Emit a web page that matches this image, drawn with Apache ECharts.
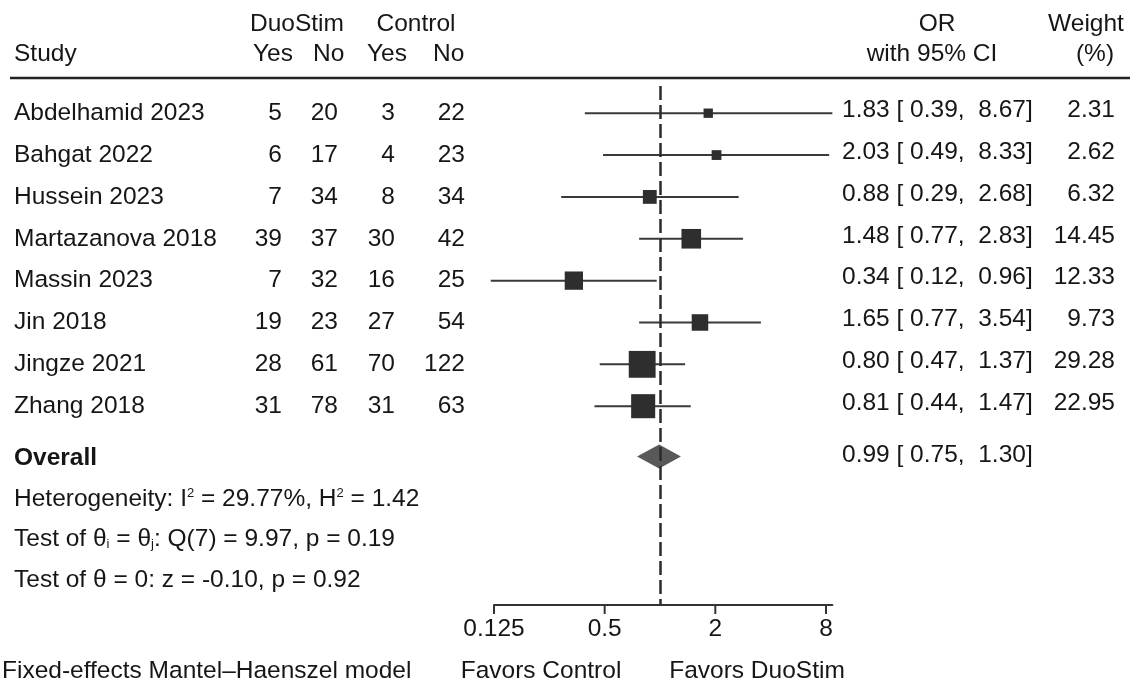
<!DOCTYPE html>
<html>
<head>
<meta charset="utf-8">
<style>
  html, body { margin: 0; padding: 0; background: #ffffff; }
  #chart { width: 1137px; height: 682px; }
</style>
<script src="https://cdn.jsdelivr.net/npm/echarts@6/dist/echarts.min.js"></script>
</head>
<body>
<div id="chart"></div>
<script>
// ---------------- data ----------------
const studies = ['Abdelhamid 2023', 'Bahgat 2022', 'Hussein 2023', 'Martazanova 2018',
                 'Massin 2023', 'Jin 2018', 'Jingze 2021', 'Zhang 2018'];
const duoYes  = [5, 6, 7, 39, 7, 19, 28, 31];
const duoNo   = [20, 17, 34, 37, 32, 23, 61, 78];
const ctlYes  = [3, 4, 8, 30, 16, 27, 70, 31];
const ctlNo   = [22, 23, 34, 42, 25, 54, 122, 63];
const orEst   = [1.83, 2.03, 0.88, 1.48, 0.34, 1.65, 0.80, 0.81];
const ciLow   = [0.39, 0.49, 0.29, 0.77, 0.12, 0.77, 0.47, 0.44];
const ciHigh  = [8.67, 8.33, 2.68, 2.83, 0.96, 3.54, 1.37, 1.47];
const weights = [2.31, 2.62, 6.32, 14.45, 12.33, 9.73, 29.28, 22.95];
const overallEst = [0.99, 0.75, 1.30];   // OR, lower, upper
const xTicks = [0.125, 0.5, 2, 8];
const statLines = [
  '{n|Heterogeneity: I}{sup|2}{n| = 29.77%, H}{sup|2}{n| = 1.42}',
  '{n|Test of θ}{sub|i}{n| = θ}{sub|j}{n|: Q(7) = 9.97, p = 0.19}',
  '{n|Test of θ = 0: z = -0.10, p = 0.92}'
];

// ---------------- layout ----------------
const FONT = '"Liberation Sans", Arial, Helvetica, sans-serif';
const FS = 24.5;
const TXT = '#161616';
const Y_MIN = -0.65, Y_MAX = 11.75;            // vertical row scale
const studyRows = studies.map((s, i) => i);
const overallRow = 8.25;
const statRows = [9.22, 10.17, 11.15];
const COL = { study: 14, dy: 282, dn: 338, cy: 395, cn: 465, or: 842, w: 1115 };
const RIGHT_SHIFT = -3;

function fmt(v) { return v.toFixed(2); }
function orText(e, l, h) { return fmt(e) + ' [ ' + fmt(l) + ',  ' + fmt(h) + ']'; }

function textEl(x, y, s, align, extra) {
  return {
    type: 'text', x: x, y: y,
    style: Object.assign({
      text: s, fill: TXT, fontSize: FS, fontFamily: FONT,
      textAlign: align, align: align,
      textVerticalAlign: 'middle', verticalAlign: 'middle'
    }, extra || {})
  };
}

const chart = echarts.init(document.getElementById('chart'), null, { renderer: 'canvas' });

const option = {
  backgroundColor: '#ffffff',
  animation: false,
  grid: { left: 494, top: 86, width: 338.4, height: 519, containLabel: false, outerBoundsMode: 'none' },
  xAxis: {
    type: 'log', logBase: 2,
    min: 0.125, max: Math.max.apply(null, ciHigh),
    axisLine: { show: true, onZero: false, lineStyle: { color: '#333', width: 2 } },
    axisTick: { show: false },
    axisLabel: { show: false },
    splitLine: { show: false }
  },
  yAxis: {
    type: 'value', inverse: true, min: Y_MIN, max: Y_MAX, show: false,
    splitLine: { show: false }
  },
  graphic: [
    { type: 'line', shape: { x1: 10, y1: 78, x2: 1130, y2: 78 }, style: { stroke: '#222', lineWidth: 2.5 } },
    textEl(297, 24, 'DuoStim', 'center'),
    textEl(416, 24, 'Control', 'center'),
    textEl(14, 54, 'Study', 'left'),
    textEl(253, 54, 'Yes', 'left'),
    textEl(313, 54, 'No', 'left'),
    textEl(367, 54, 'Yes', 'left'),
    textEl(433, 54, 'No', 'left'),
    textEl(937, 24, 'OR', 'center'),
    textEl(932, 54, 'with 95% CI', 'center'),
    textEl(1086, 24, 'Weight', 'center'),
    textEl(1095, 54, '(%)', 'center'),
    textEl(2, 671, 'Fixed-effects Mantel\u2013Haenszel model', 'left'),
    textEl(541, 671, 'Favors Control', 'center'),
    textEl(757, 671, 'Favors DuoStim', 'center')
  ],
  series: [
    // study table text
    {
      type: 'custom', name: 'table', silent: true, clip: false,
      data: studyRows.map(r => [1, r, r]),
      encode: { x: 0, y: 1 },
      renderItem: function (params, api) {
        const i = api.value(2);
        const y = api.coord([1, api.value(1)])[1];
        return {
          type: 'group',
          children: [
            textEl(COL.study, y, studies[i], 'left'),
            textEl(COL.dy, y, String(duoYes[i]), 'right'),
            textEl(COL.dn, y, String(duoNo[i]), 'right'),
            textEl(COL.cy, y, String(ctlYes[i]), 'right'),
            textEl(COL.cn, y, String(ctlNo[i]), 'right'),
            textEl(COL.or, y + RIGHT_SHIFT, orText(orEst[i], ciLow[i], ciHigh[i]), 'left'),
            textEl(COL.w, y + RIGHT_SHIFT, fmt(weights[i]), 'right')
          ]
        };
      }
    },
    // overall + statistics text
    {
      type: 'custom', name: 'summaryText', silent: true, clip: false,
      data: [[1, overallRow]],
      encode: { x: 0, y: 1 },
      renderItem: function (params, api) {
        const y = api.coord([1, api.value(1)])[1];
        const kids = [
          textEl(COL.study, y, 'Overall', 'left', { fontWeight: 'bold' }),
          textEl(COL.or, y + RIGHT_SHIFT, orText(overallEst[0], overallEst[1], overallEst[2]), 'left')
        ];
        statRows.forEach(function (r, k) {
          const yy = api.coord([1, r])[1];
          kids.push({
            type: 'text', x: COL.study, y: yy,
            style: {
              text: statLines[k], fill: TXT, fontSize: FS, fontFamily: FONT,
              textAlign: 'left', align: 'left', textVerticalAlign: 'middle', verticalAlign: 'middle',
              rich: {
                n: { fontSize: FS, fontFamily: FONT, fill: TXT, color: TXT },
                sup: { fontSize: 13, fontFamily: FONT, fill: TXT, color: TXT, verticalAlign: 'top' },
                sub: { fontSize: 13, fontFamily: FONT, fill: TXT, color: TXT, verticalAlign: 'bottom' }
              }
            }
          });
        });
        return { type: 'group', children: kids };
      }
    },
    // confidence intervals and weighted squares
    {
      type: 'custom', name: 'studies', silent: true, clip: false, z: 3,
      data: studyRows.map(i => [orEst[i], i, ciLow[i], ciHigh[i], weights[i]]),
      encode: { x: 0, y: 1 },
      renderItem: function (params, api) {
        const row = api.value(1);
        const p = api.coord([api.value(0), row]);
        const pl = api.coord([api.value(2), row]);
        const ph = api.coord([api.value(3), row]);
        const s = 2.5 + 4.5 * Math.sqrt(api.value(4));
        return {
          type: 'group',
          children: [
            { type: 'line', shape: { x1: pl[0], y1: p[1], x2: ph[0], y2: p[1] },
              style: { stroke: '#3a3a3a', lineWidth: 2 } },
            { type: 'rect', shape: { x: p[0] - s / 2, y: p[1] - s / 2, width: s, height: s },
              style: { fill: '#2e2e2e' } }
          ]
        };
      }
    },
    // overall diamond + null line
    {
      type: 'custom', name: 'overall', silent: true, clip: false, z: 3,
      data: [[overallEst[0], overallRow, overallEst[1], overallEst[2]]],
      encode: { x: 0, y: 1 },
      renderItem: function (params, api) {
        const row = api.value(1);
        const p = api.coord([api.value(0), row]);
        const pl = api.coord([api.value(2), row]);
        const ph = api.coord([api.value(3), row]);
        const yc = p[1] - 2;
        return {
          type: 'polygon',
          shape: { points: [[pl[0], yc], [p[0], yc - 12], [ph[0], yc], [p[0], yc + 12]] },
          style: { fill: '#595959' }
        };
      },
      markLine: {
        silent: true, symbol: 'none', animation: false,
        label: { show: false },
        lineStyle: { color: '#2b2b2b', width: 2.5, type: [14, 5] },
        data: [{ xAxis: 1 }]
      }
    },
    // x-axis ticks and labels at chosen values
    {
      type: 'custom', name: 'ticks', silent: true, clip: false,
      data: xTicks.map(v => [v, Y_MAX]),
      encode: { x: 0, y: 1 },
      renderItem: function (params, api) {
        const p = api.coord([api.value(0), api.value(1)]);
        return {
          type: 'group',
          children: [
            { type: 'line', shape: { x1: p[0], y1: p[1], x2: p[0], y2: p[1] + 9 },
              style: { stroke: '#333', lineWidth: 2 } },
            textEl(p[0], p[1] + 24, String(api.value(0)), 'center')
          ]
        };
      }
    }
  ]
};

chart.setOption(option);
</script>
</body>
</html>
